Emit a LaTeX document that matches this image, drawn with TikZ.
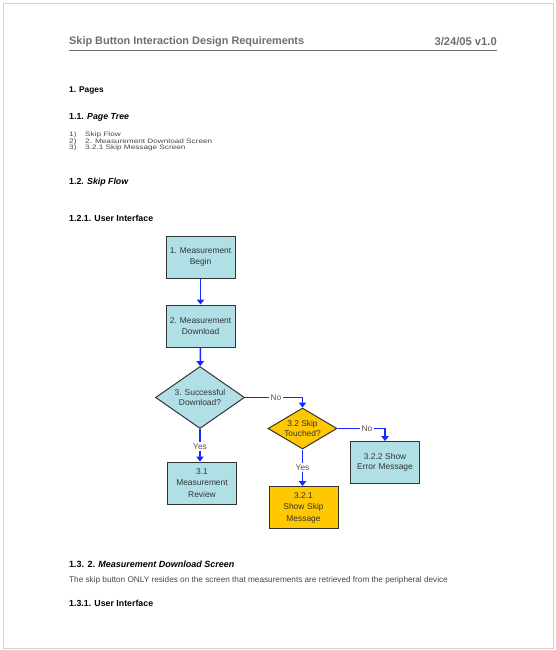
\documentclass[tikz,border=0pt]{standalone}
\usepackage{fontspec}
\setmainfont{Liberation Sans}
\usetikzlibrary{shapes.geometric,arrows.meta}
\definecolor{boxcyan}{RGB}{176,224,230}
\definecolor{boxgold}{RGB}{255,200,0}
\definecolor{flowblue}{RGB}{20,40,255}
\definecolor{labelgray}{RGB}{95,80,80}
\definecolor{titlegray}{RGB}{110,110,110}
\definecolor{bodygray}{RGB}{70,70,70}
% tightly set list lines: full width, reduced height
\newcommand{\tightline}[1]{\scalebox{1}[0.78]{#1}}
\tikzset{
  heading/.style={anchor=west,inner sep=0pt,font=\fontsize{8.8}{9}\selectfont\bfseries},
  subheading/.style={anchor=west,inner sep=0pt,font=\fontsize{8.8}{9}\selectfont\bfseries},
  listtext/.style={anchor=west,inner sep=0pt,text=bodygray,font=\fontsize{8.2}{8}\selectfont},
  stepbox/.style={draw=black!80,line width=1pt,fill=boxcyan,minimum width=69pt,minimum height=42pt,
    align=center,inner sep=0pt,text=black!80,font=\fontsize{8.4}{10.5}\selectfont},
  goldbox/.style={stepbox,fill=boxgold},
  decision/.style={diamond,draw=black!80,line width=1pt,fill=boxcyan,aspect=1.6,inner sep=0pt,
    align=center,text=black!80,font=\fontsize{8.4}{10.5}\selectfont},
  flow/.style={draw=flowblue,line width=1.5pt,-{Triangle[width=7.5pt,length=5pt]}},
  answer/.style={fill=white,inner sep=1.5pt,text=labelgray,font=\fontsize{8.3}{8}\selectfont}
}
\begin{document}
\begin{tikzpicture}[x=1pt,y=-1pt]
\useasboundingbox (0,0) rectangle (556,650);
% page frame
\draw[black!18,line width=1pt] (3.5,4) rectangle (553,648);

% running header
\node[anchor=west,inner sep=0pt,text=titlegray,font=\fontsize{10.9}{11}\selectfont\bfseries] (title) at (69,42) {Skip Button Interaction Design Requirements};
\node[anchor=east,inner sep=0pt,text=titlegray,font=\fontsize{11.2}{11}\selectfont\bfseries] (version) at (497,42) {3/24/05 v1.0};
\draw[titlegray,line width=1.3pt] (69,50.5) -- (497,50.5);

% section text
\node[heading,font=\fontsize{8.3}{9}\selectfont\bfseries] (pages) at (69,90.5) {1. Pages};
\node[subheading] (pagetree) at (69,117) {1.1. \textit{Page Tree}};
\node[listtext] (n1) at (69,135) {\tightline{1)}};
\node[listtext] (l1) at (85,135) {\tightline{Skip Flow}};
\node[listtext] (n2) at (69,141.5) {\tightline{2)}};
\node[listtext] (l2) at (85,141.5) {\tightline{2. Measurement Download Screen}};
\node[listtext] (n3) at (69,148) {\tightline{3)}};
\node[listtext] (l3) at (85,148) {\tightline{3.2.1 Skip Message Screen}};
\node[subheading] (skipflow) at (69,182) {1.2. \textit{Skip Flow}};
\node[heading] (ui1) at (69,218) {1.2.1. User Interface};

% flow chart
\node[stepbox] (begin) at (200.5,257) {1. Measurement\\Begin};
\node[stepbox] (download) at (200.5,326) {2. Measurement\\Download};
\node[decision,minimum width=89pt,minimum height=62pt] (success) at (200,397.5) {3. Successful\\Download?};
\node[stepbox,text width=66pt,font=\fontsize{8.4}{11.5}\selectfont] (review) at (202,483) {3.1\\Measurement\\Review};
\node[decision,fill=boxgold,minimum width=69pt,minimum height=41pt,aspect=1.8] (touched) at (302.5,428.5) {3.2 Skip\\Touched?};
\node[goldbox,text width=66pt,font=\fontsize{8.4}{11.5}\selectfont] (skipmsg) at (303.5,507.5) {3.2.1\\Show Skip\\Message};
\node[stepbox,text width=66pt] (error) at (385,462.5) {3.2.2 Show\\Error Message};

\draw[flow] (begin) -- (download);
\draw[flow] (download) -- (success);
\draw[flow] (success.south) -- node[answer,pos=0.54] {Yes} (success.south |- review.north);
\draw[flow] (success.east) -| node[answer,pos=0.27] {No} (touched.north);
\draw[flow] (touched.south) -- node[answer,pos=0.5] {Yes} (skipmsg.north -| touched.south);
\draw[flow] (touched.east) -| node[answer,pos=0.31] {No} (error.north);

% following section
\node[subheading,font=\fontsize{9}{9}\selectfont\bfseries] (mds) at (69,564) {1.3. 2. \textit{Measurement Download Screen}};
\node[listtext] (body) at (69,580) {The skip button ONLY resides on the screen that measurements are retrieved from the peripheral device};
\node[heading] (ui2) at (69,603) {1.3.1. User Interface};
\end{tikzpicture}
\end{document}
